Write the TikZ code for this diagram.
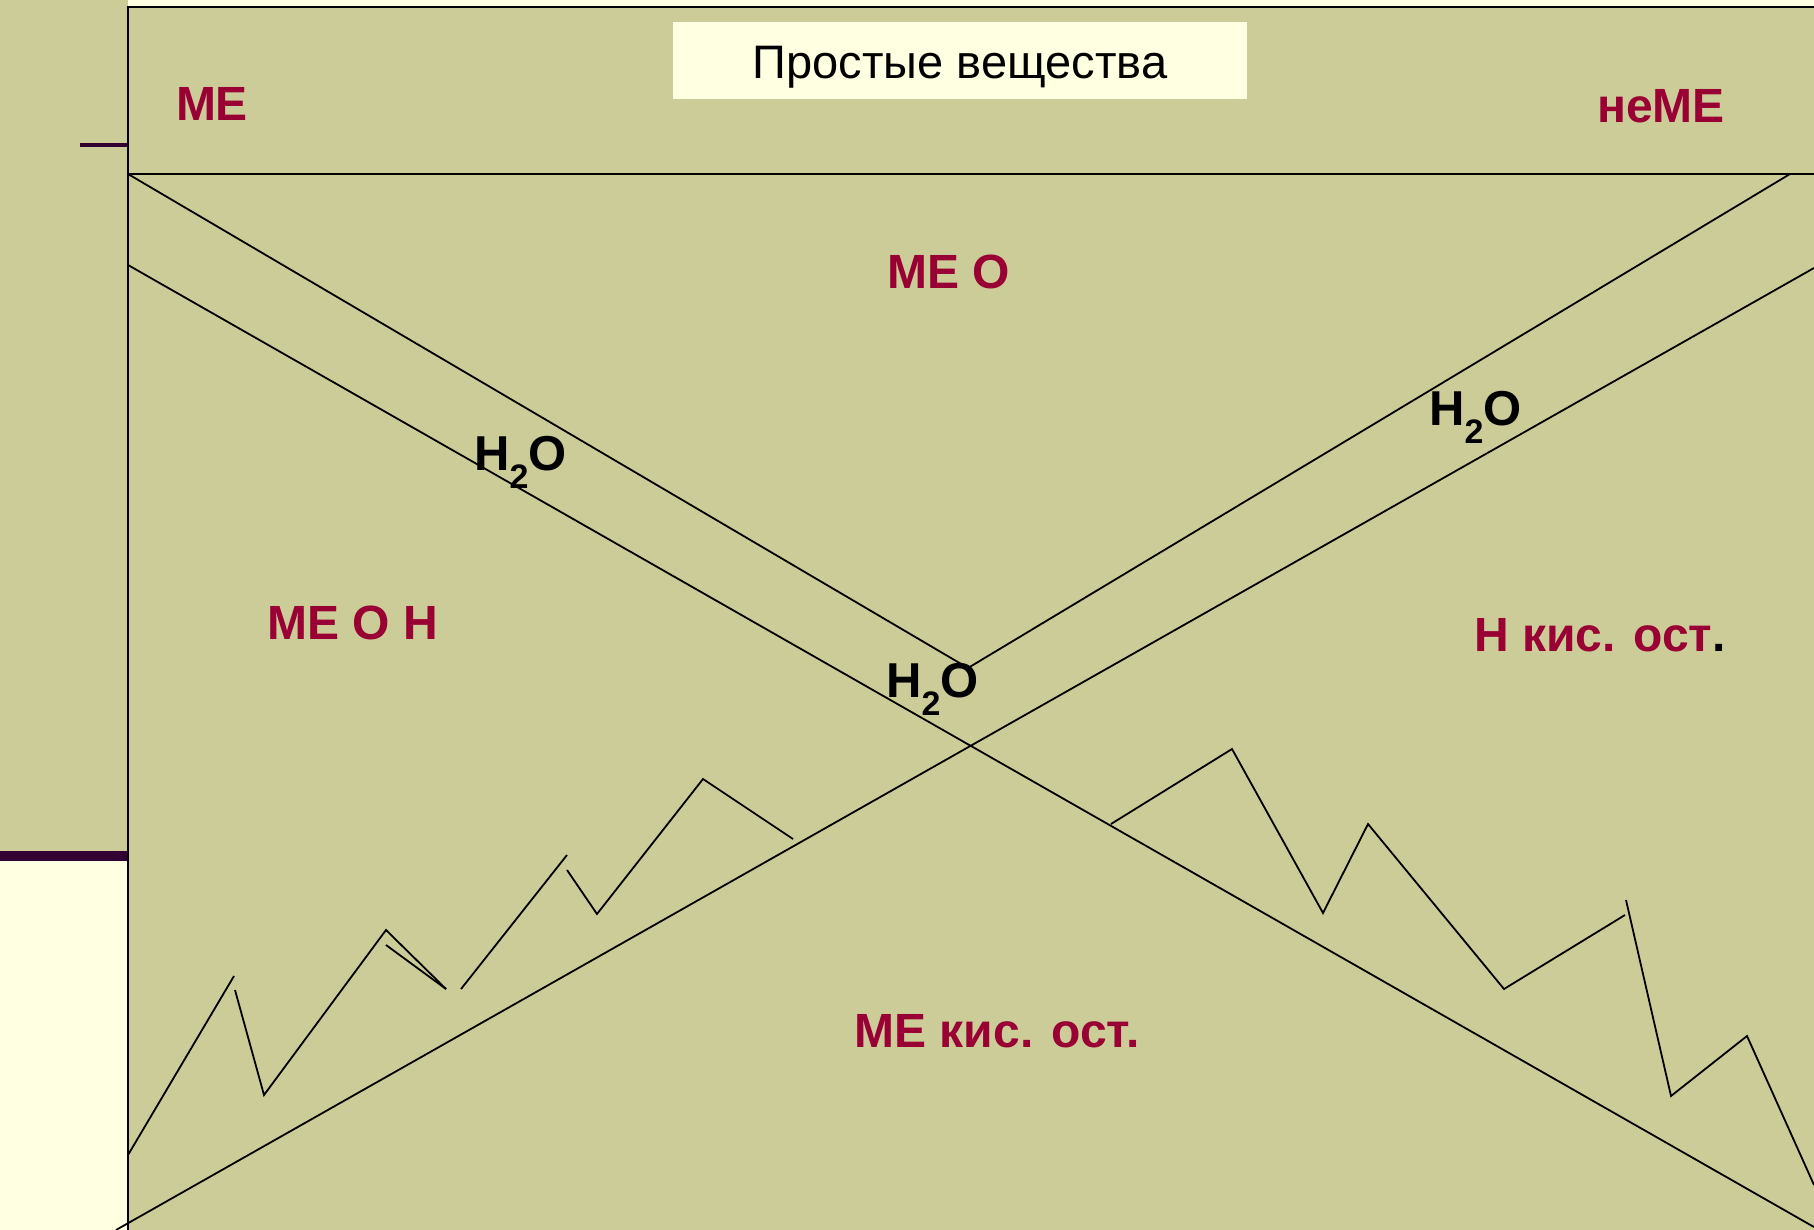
\documentclass[tikz,border=0pt]{standalone}
\usepackage{fontspec}
\setmainfont{Liberation Sans}
\definecolor{bgolive}{RGB}{204,204,153}
\definecolor{cream}{RGB}{255,255,225}
\definecolor{labelred}{RGB}{153,0,51}
\definecolor{darkpurple}{RGB}{51,0,51}
\begin{document}
\begin{tikzpicture}[x=1pt,y=-1pt,
  ln/.style={line width=1.8pt, draw=black},
  lbl/.style={font=\fontsize{48}{58}\selectfont\bfseries, text=labelred, inner sep=0pt, anchor=base},
  h2o/.style={font=\fontsize{49}{58}\selectfont\bfseries, text=black, inner sep=0pt, anchor=base west},
  titlebox/.style={fill=cream, minimum width=574pt, minimum height=77pt, inner sep=0pt,
     text height=35pt, text depth=0pt, font=\fontsize{47}{56}\selectfont}]
\fill[bgolive] (0,0) rectangle (1814,1230);
\useasboundingbox (0,0) rectangle (1814,1230);
% side decorations
\fill[cream] (128,0) rectangle (1814,7);
\fill[cream] (0,861) rectangle (128,1230);
\fill[darkpurple] (0,851) rectangle (128,861);
\draw[darkpurple, line width=4pt] (80,145.5) -- (128,145.5);
% frame
\coordinate (tl) at (128,7);
\coordinate (tr) at (1814,7);
\coordinate (bl) at (128,1230);
\coordinate (hl) at (128,174);
\coordinate (hr) at (1814,174);
\draw[ln] (bl) -- (tl) -- (tr);
\draw[ln] (hl) -- (hr);
% crossing lines
\coordinate (v) at (968,668);
\coordinate (r1end) at (1790,174);
\coordinate (l2start) at (128,265);
\coordinate (l2end) at (1814,1227);
\coordinate (r2start) at (116,1230);
\coordinate (r2end) at (1814,268);
\draw[ln] (hl) -- (v) -- (r1end);
\draw[ln] (l2start) -- (l2end);
\draw[ln] (r2start) -- (r2end);
% left zigzag
\draw[ln] (128,1155) -- (234,976);
\draw[ln] (235,990) -- (264,1095) -- (386,930) -- (446,989);
\draw[ln] (386,945) -- (446,989);
\draw[ln] (461,989) -- (567,855);
\draw[ln] (567,870) -- (597,914) -- (703,779) -- (793,839);
% right zigzag
\draw[ln] (1111,824) -- (1232,749) -- (1323,913) -- (1368,824) -- (1504,989) -- (1625,915);
\draw[ln] (1626,900) -- (1671,1096) -- (1747,1036) -- (1814,1185);
% title
\node[titlebox] (title) at (960,61) {Простые вещества};
% labels
\node[lbl] (me) at (212,121) {МЕ};
\node[lbl] (neme) at (1661,123) {неМЕ};
\node[lbl] (meo) at (949,289) {МЕ О};
\node[lbl] (meoh) at (353,639) {МЕ О Н};
\node[lbl] (hkis) at (1600,651) {Н кис. ост\textcolor{black}{.}};
\node[lbl] (mekis) at (997,1047) {МЕ кис. ост.};
% water labels
\newcommand{\wat}{H\raisebox{-18pt}{\fontsize{34}{40}\selectfont 2}O}
\node[h2o] (w1) at (474,470) {\wat};
\node[h2o] (w2) at (886,697) {\wat};
\node[h2o] (w3) at (1429,425) {\wat};
\end{tikzpicture}
\end{document}
